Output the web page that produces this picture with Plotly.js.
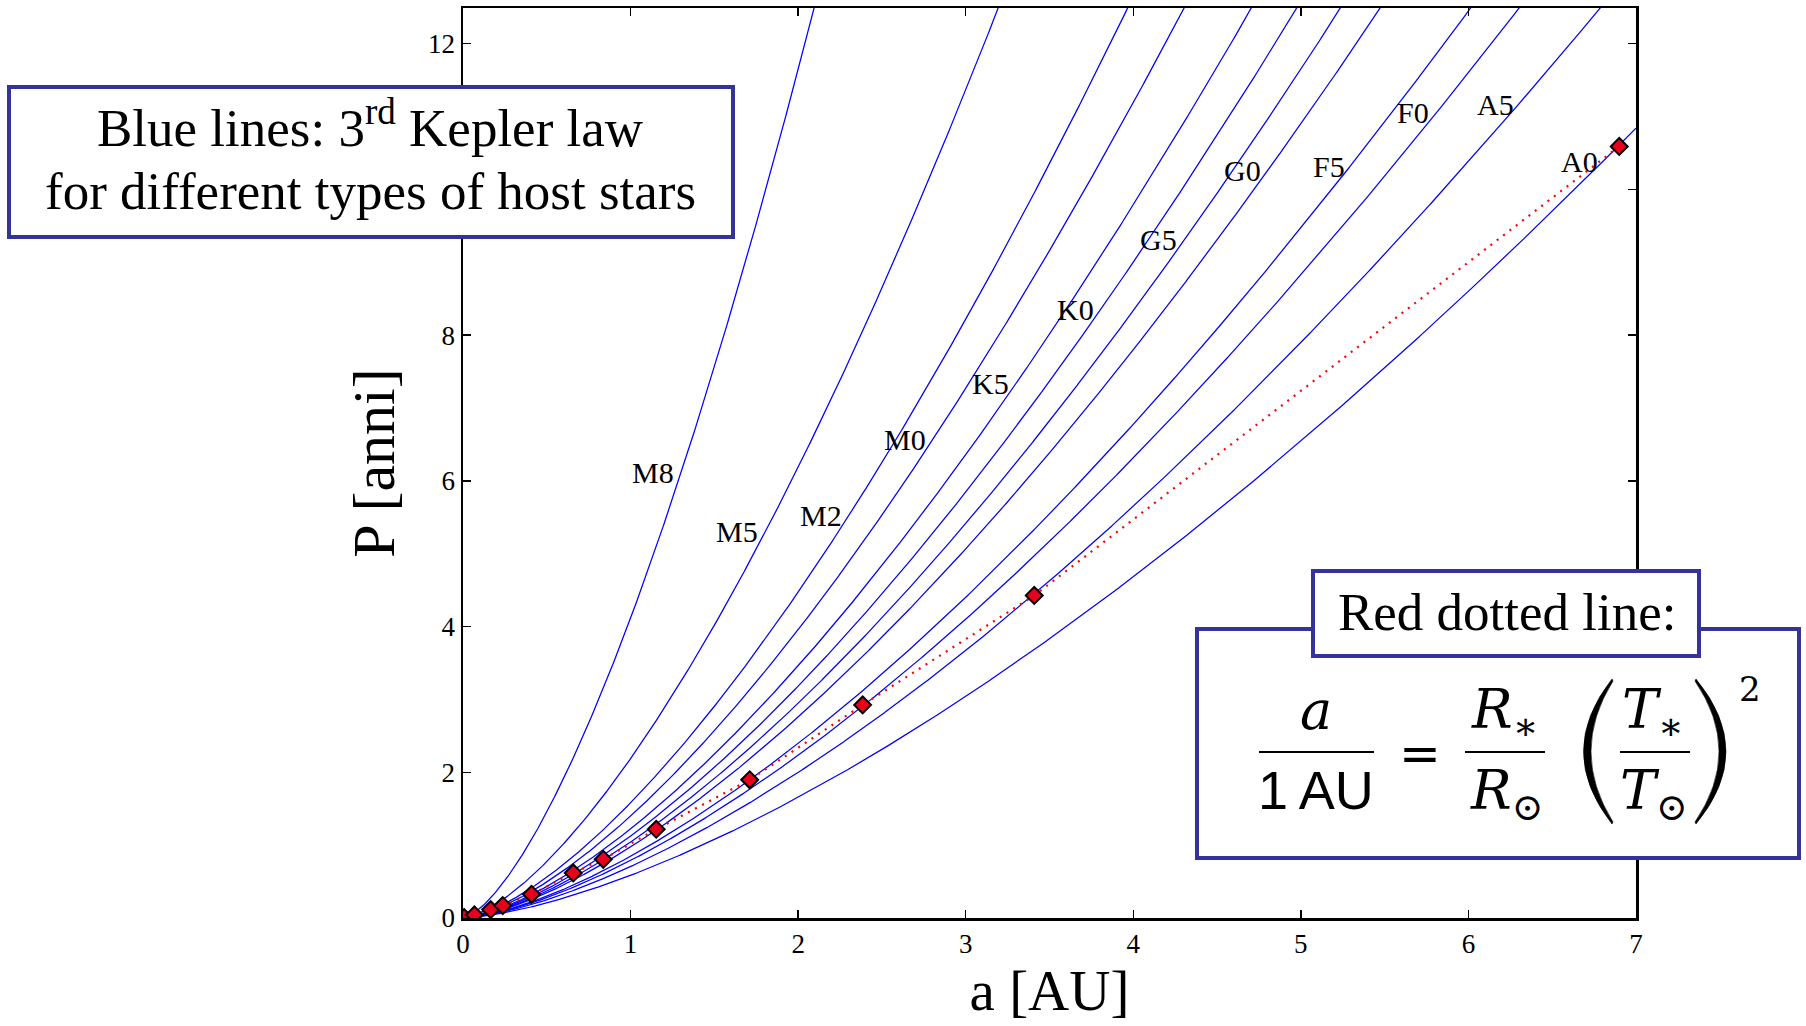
<!DOCTYPE html>
<html>
<head>
<meta charset="utf-8">
<script src="https://cdn.plot.ly/plotly-3.0.1.min.js"></script>
<style>
html,body{margin:0;padding:0;background:#fff;}
#chart{width:1806px;height:1026px;}
</style>
</head>
<body>
<div id="chart"></div>
<script>
// ---------------- DATA ----------------
// Spectral types of the host stars, one blue Kepler curve each
const spectralTypes = ['M8', 'M5', 'M2', 'M0', 'K5', 'K0', 'G5', 'G0', 'F5', 'F0', 'A5', 'A0'];
const stellarMass = [0.059, 0.209, 0.400, 0.511, 0.668, 0.790, 0.921, 1.052, 1.394, 1.605, 2.004, 2.919];
// Where the spectral-type labels sit (a [AU], P [anni])
const labelA = [1.136, 1.635, 2.136, 2.637, 3.145, 3.656, 4.152, 4.654, 5.170, 5.672, 6.159, 6.663];
const labelP = [6.11, 5.30, 5.52, 6.57, 7.33, 8.35, 9.31, 10.26, 10.32, 11.05, 11.16, 10.38];
// Red diamonds (habitable-zone distance of each star type) joined by the red dotted line
const hzA = [0.007, 0.068, 0.165, 0.237, 0.409, 0.658, 0.837, 1.153, 1.711, 2.385, 3.409, 6.900];
const hzP = [0.006, 0.042, 0.115, 0.170, 0.325, 0.618, 0.806, 1.218, 1.897, 2.925, 4.427, 10.59];
// Axis ticks
const xTicks = [0, 1, 2, 3, 4, 5, 6, 7];
const yTicks = [0, 2, 4, 6, 8, 10, 12];
// Semi-major axis sampling for the Kepler curves
const aGrid = Array.from({length: 1401}, (_, i) => i * 0.005);

// ---------------- LAYOUT GEOMETRY ----------------
const W = 1806, H = 1026, ML = 463, MR = 170, MT = 8, MB = 108;
const PW = W - ML - MR, PH = H - MT - MB;
const px = x => (x - ML) / PW;          // page pixel -> paper x
const py = y => (H - MB - y) / PH;      // page pixel -> paper y

const SERIF = 'Liberation Serif, Times New Roman, serif';
const MATH = 'DejaVu Serif, serif';
const SANS = 'Liberation Sans, Arial, sans-serif';
const BOXC = '#333399';

// ---------------- TRACES ----------------
const traces = stellarMass.map((m, i) => ({
  type: 'scatter', mode: 'lines',
  x: aGrid,
  y: aGrid.map(a => Math.sqrt(a * a * a / m)),
  line: {color: '#0000ff', width: 1.25},
  name: spectralTypes[i],
  hoverinfo: 'skip', showlegend: false
}));
traces.push({
  type: 'scatter', mode: 'lines+markers',
  x: hzA, y: hzP,
  line: {color: '#ff0000', width: 2.2, dash: '2px,6px'},
  marker: {symbol: 'diamond', size: 13, color: '#e8001c', line: {color: '#000', width: 2}},
  showlegend: false, hoverinfo: 'skip'
});

// ---------------- ANNOTATIONS ----------------
const annotations = [];
spectralTypes.forEach((t, i) => {
  annotations.push({
    x: labelA[i], y: labelP[i], xref: 'x', yref: 'y', text: t, showarrow: false,
    xanchor: 'center', yanchor: 'middle', font: {family: SERIF, size: 30, color: '#000'}
  });
});
// text placed by its baseline (asc = font ascent in em)
function annBase(text, cx, baseline, size, family, asc) {
  return {
    x: px(cx), y: py(baseline - asc * size), xref: 'paper', yref: 'paper', text: text,
    showarrow: false, xanchor: 'center', yanchor: 'top', borderpad: 0,
    font: {family: family, size: size, color: '#000'}
  };
}
annotations.push(annBase('Blue lines: 3<sup>rd</sup> Kepler law', 370, 146, 53, SERIF, 0.891 + 0.16));
annotations.push(annBase('for different types of host stars', 370, 208, 53, SERIF, 0.891));
annotations.push(annBase('Red dotted line:', 1507, 629, 53, SERIF, 0.891));
// formula  a / 1 AU = R* / Rsun ( T* / Tsun )^2
annotations.push(annBase('<i>a</i>', 1316, 728, 54, MATH, 0.928));
annotations.push(annBase('1\u2009AU', 1316, 808, 54, SANS, 0.905));
annotations.push(annBase('=', 1420, 770, 50, 'DejaVu Sans, sans-serif', 0.928));
annotations.push(annBase('<i>R</i><sub>\u2217</sub>', 1504, 727, 54, MATH, 0.928));
annotations.push(annBase('<i>R</i><sub>\u2299</sub>', 1506, 808, 54, MATH, 0.928));
annotations.push(annBase('<i>T</i><sub>\u2217</sub>', 1653, 727, 54, MATH, 0.928));
annotations.push(annBase('<i>T</i><sub>\u2299</sub>', 1654, 808, 54, MATH, 0.928));
annotations.push(annBase('2', 1750, 700, 34, MATH, 0.928));

// ---------------- SHAPES ----------------
function rect(x0, y0, x1, y1) {
  return {type: 'rect', xref: 'paper', yref: 'paper', x0: px(x0), x1: px(x1), y0: py(y1), y1: py(y0),
    line: {color: BOXC, width: 4}, fillcolor: '#ffffff', layer: 'above'};
}
function hline(x0, x1, y) {
  return {type: 'line', xref: 'paper', yref: 'paper', x0: px(x0), x1: px(x1), y0: py(y), y1: py(y),
    line: {color: '#000', width: 2.2}, layer: 'above'};
}
function pathOf(pts) {
  // pts: list of [cmd, x, y, ...] in page pixels
  return pts.map(p => p[0] + p.slice(1).map((v, k) => (k % 2 === 0 ? px(v) : py(v)).toFixed(5))
    .reduce((s, v, k) => s + (k % 2 === 0 ? (k ? ' ' : '') + v : ',' + v), '')).join(' ') + ' Z';
}
function paren(pts) {
  return {type: 'path', xref: 'paper', yref: 'paper', path: pathOf(pts),
    fillcolor: '#000', line: {color: '#000', width: 0.6}, layer: 'above'};
}
const shapes = [
  rect(9, 87, 733, 237),
  rect(1197, 629, 1799, 858),
  rect(1313, 571, 1699, 656),
  hline(1259, 1374, 752),
  hline(1465, 1545, 752),
  hline(1620, 1690, 752),
  paren([['M', 1612, 679], ['Q', 1555, 751.5, 1612, 824], ['L', 1613, 822], ['Q', 1569, 751.5, 1613, 681]]),
  paren([['M', 1696, 679], ['Q', 1756, 751.5, 1696, 824], ['L', 1695, 822], ['Q', 1743, 751.5, 1695, 681]])
];

// ---------------- LAYOUT ----------------
const axisCommon = {
  ticks: 'inside', ticklen: 8, tickwidth: 1.3, tickcolor: '#000',
  showline: true, linecolor: '#000', linewidth: 2.5, mirror: 'ticks',
  showgrid: false, zeroline: false, automargin: false,
  tickfont: {family: SERIF, size: 27, color: '#000'}
};
const layout = {
  width: W, height: H,
  margin: {l: ML, r: MR, t: MT, b: MB, pad: 0},
  paper_bgcolor: '#fff', plot_bgcolor: '#fff',
  showlegend: false,
  xaxis: Object.assign({}, axisCommon, {
    range: [0, 7], tickvals: xTicks, ticktext: xTicks.map(String),
    title: {text: 'a [AU]', font: {family: SERIF, size: 57, color: '#000'}, standoff: 6}
  }),
  yaxis: Object.assign({}, axisCommon, {
    range: [0, 12.49], tickvals: yTicks, ticktext: yTicks.map(String),
    title: {text: 'P [anni]', font: {family: SERIF, size: 60, color: '#000'}, standoff: 14}
  }),
  annotations: annotations,
  shapes: shapes
};

Plotly.newPlot('chart', traces, layout, {displayModeBar: false, staticPlot: true});
</script>
</body>
</html>
